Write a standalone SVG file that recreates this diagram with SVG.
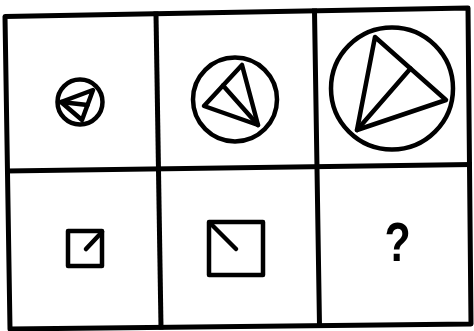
<svg xmlns="http://www.w3.org/2000/svg" width="474" height="331" viewBox="0 0 474 331">
<style>
.ln{fill:none;stroke:#000;stroke-width:5;stroke-linecap:square;stroke-linejoin:round}
.fg{fill:none;stroke:#000;stroke-width:4.5;stroke-linejoin:round;stroke-linecap:round}
.q{font-family:"Liberation Sans",Arial,sans-serif;font-weight:bold;font-size:55px;fill:#000}
</style>
<rect width="474" height="331" fill="#fff"/>
<g id="grid" class="ln">
<polygon points="5,16.5 468,8 471,324 10,329"/>
<line x1="7.5" y1="171" x2="469.5" y2="164.5"/>
<line x1="156" y1="14" x2="161" y2="327"/>
<line x1="314.5" y1="11" x2="319.5" y2="325.5"/>
</g>
<g id="cell1" class="fg">
<circle cx="80" cy="102" r="22.5"/>
<polygon points="61,102 93,90 82,120"/>
<line x1="61" y1="102" x2="87.5" y2="105"/>
</g>
<g id="cell2" class="fg">
<circle cx="235" cy="99.5" r="42"/>
<polygon points="242,65 258,125 204,106"/>
<line x1="223" y1="85.5" x2="258" y2="125"/>
</g>
<g id="cell3" class="fg">
<circle cx="392" cy="88.5" r="61"/>
<polygon points="375,37 446,100 357,130"/>
<line x1="410.5" y1="68.5" x2="357" y2="130"/>
</g>
<g id="cell4" class="fg">
<rect x="68" y="231" width="34" height="35"/>
<line x1="102" y1="232" x2="86" y2="249"/>
</g>
<g id="cell5" class="fg">
<rect x="209" y="222" width="54" height="53"/>
<line x1="210" y1="223" x2="236" y2="249"/>
</g>
<g id="cell6">
<text class="q" x="0" y="261" text-anchor="middle" transform="translate(397.5,0) scale(0.78,1)">?</text>
</g>
</svg>
